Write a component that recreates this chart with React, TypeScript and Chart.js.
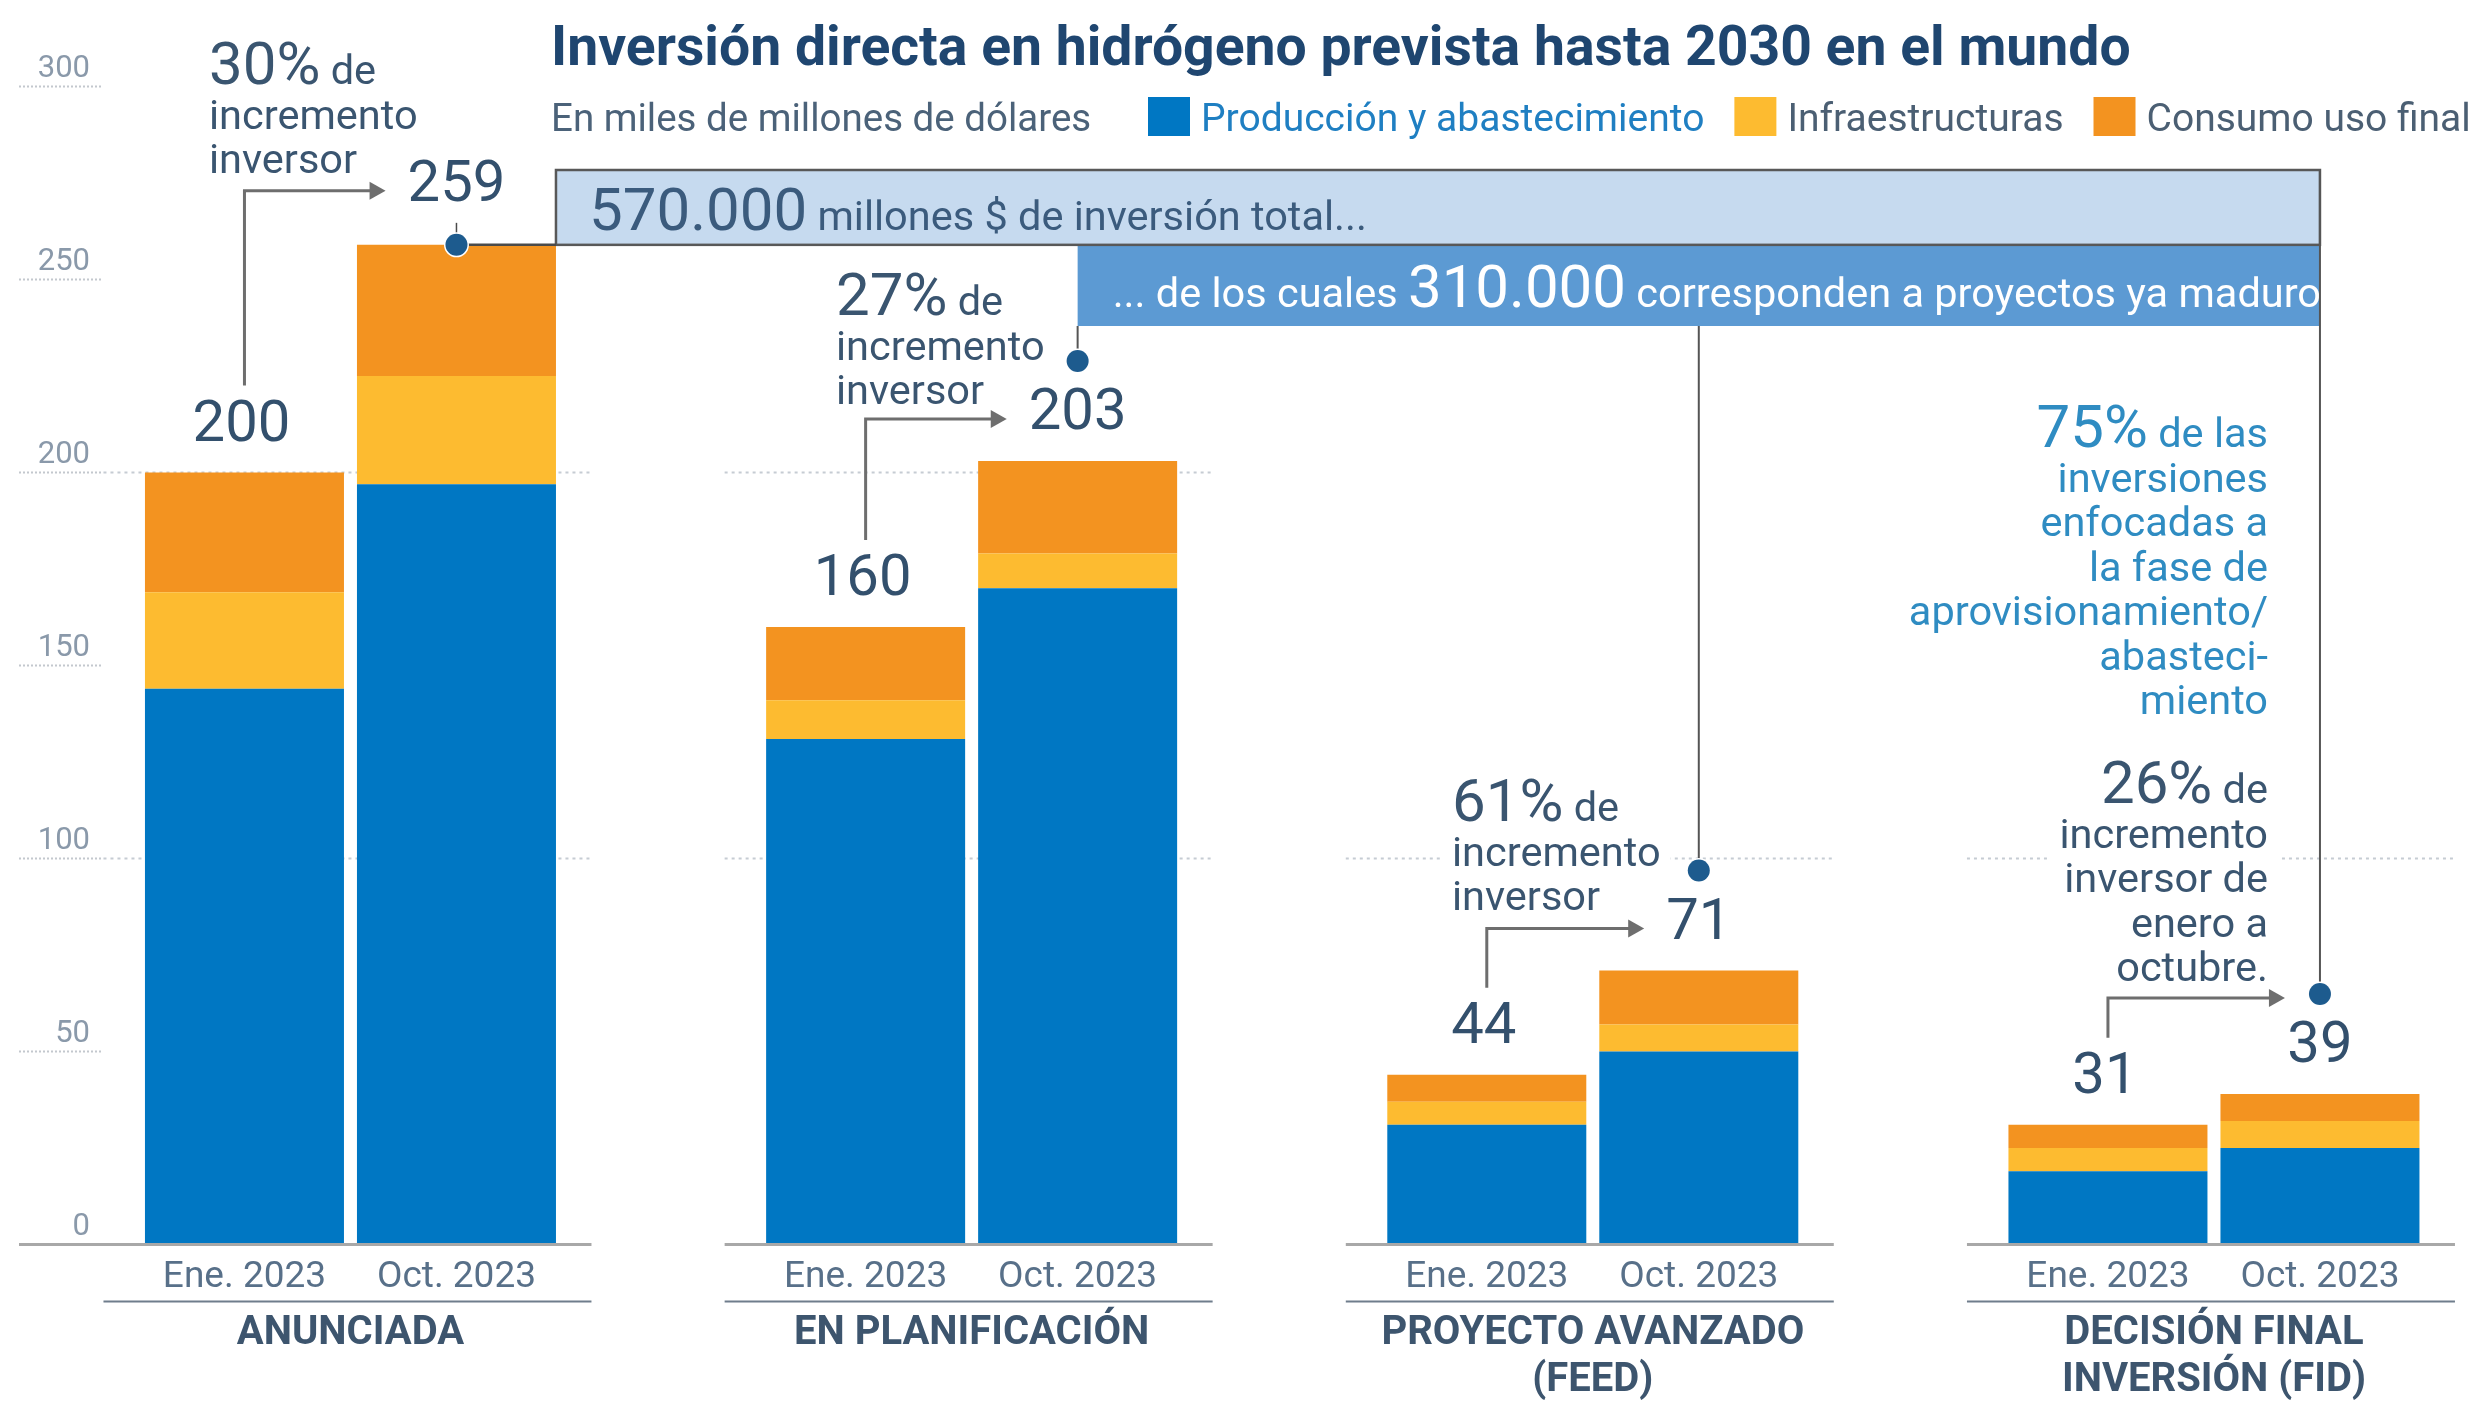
import React, { useEffect, useRef } from 'react';
import { Chart, registerables } from 'chart.js';

Chart.register(...registerables);

const W = 2470;
const H = 1404;

// ---------- data ----------
const categorias = [['ANUNCIADA'], ['EN PLANIFICACIÓN'], ['PROYECTO AVANZADO', '(FEED)'], ['DECISIÓN FINAL', 'INVERSIÓN (FID)']];
const periodos = ['Ene. 2023', 'Oct. 2023'];
const series = ['Producción y abastecimiento', 'Infraestructuras', 'Consumo uso final'];
const produccionEne = [144, 131, 31, 19];
const infraestructurasEne = [25, 10, 6, 6];
const consumoEne = [31, 19, 7, 6];
const produccionOct = [197, 170, 50, 25];
const infraestructurasOct = [28, 9, 7, 7];
const consumoOct = [34, 24, 14, 7];
const totalEne = [200, 160, 44, 31];
const totalOct = [259, 203, 71, 39];
const yTicksStep = 50;
const yMax = 300;
const gridValues = [100, 200];
const incrementos = ['30%', '27%', '61%', '26%'];

const titulo = 'Inversión directa en hidrógeno prevista hasta 2030 en el mundo';
const subtitulo = 'En miles de millones de dólares';
const cajaTotal = ['570.000', ' millones $ de inversión total...'];
const cajaMaduros = ['... de los cuales ', '310.000', ' corresponden a proyectos ya maduros'];

// ---------- styles ----------
const COLORS = ['#0077C3', '#FDBB30', '#F39320'];
const DARK = '#3a5570';
const TEAL = '#2f8cc2';
const FAM = 'Roboto, "Noto Sans", sans-serif';
const font = (size: number, weight = 400) => `${weight} ${size}px ${FAM}`;

const eneSeries = [produccionEne, infraestructurasEne, consumoEne];
const octSeries = [produccionOct, infraestructurasOct, consumoOct];

const barCommon = { categoryPercentage: 0.6826, barPercentage: 0.9387, borderWidth: 0 };

const datasets = [
  ...eneSeries.map((arr, k) => ({
    label: series[k],
    stack: 'ene',
    data: arr.map((v, i) => ({ x: i, y: v })),
    backgroundColor: COLORS[k],
    ...barCommon,
  })),
  ...octSeries.map((arr, k) => ({
    label: series[k],
    stack: 'oct',
    data: arr.map((v, i) => ({ x: i, y: v })),
    backgroundColor: COLORS[k],
    ...barCommon,
  })),
];

// annotation blocks (layout)
const notas = [
  { big: incrementos[0], small: ' de', lines: ['incremento', 'inversor'], x: 209, y: 84, align: 'left', color: DARK },
  { big: incrementos[1], small: ' de', lines: ['incremento', 'inversor'], x: 836, y: 315, align: 'left', color: DARK },
  { big: incrementos[2], small: ' de', lines: ['incremento', 'inversor'], x: 1452, y: 821, align: 'left', color: DARK },
  { big: '75%', small: ' de las', lines: ['inversiones', 'enfocadas a', 'la fase de', 'aprovisionamiento/', 'abasteci-', 'miento'], x: 2268, y: 447, align: 'right', color: TEAL },
  { big: incrementos[3], small: ' de', lines: ['incremento', 'inversor de', 'enero a', 'octubre.'], x: 2268, y: 803, align: 'right', color: DARK },
];
const arrowAtDot = [false, false, false, true];

const AXIS_LEFT = 19;
const SPAN_L = 247;
const SPAN_R = 241;
const LINE_H = 44.5;
const BIG = 60;
const SMALL = 41.5;
const BOX_TOP = 170;
const BOX2_BOTTOM = 326;
const DOT_LIFT = 100;
const DOT_R = 11;

function line(ctx: CanvasRenderingContext2D, x1: number, y1: number, x2: number, y2: number, color: string, w: number) {
  ctx.save();
  ctx.strokeStyle = color;
  ctx.lineWidth = w;
  ctx.beginPath();
  ctx.moveTo(x1, y1);
  ctx.lineTo(x2, y2);
  ctx.stroke();
  ctx.restore();
}

function rich(ctx: CanvasRenderingContext2D, parts: { t: string; s: number; w?: number }[], x: number, y: number, align: string) {
  let total = 0;
  const widths = parts.map((p) => {
    ctx.font = font(p.s, p.w || 400);
    const w = ctx.measureText(p.t).width;
    total += w;
    return w;
  });
  let cx = align === 'left' ? x : align === 'right' ? x - total : x - total / 2;
  ctx.textAlign = 'left';
  ctx.textBaseline = 'alphabetic';
  parts.forEach((p, i) => {
    ctx.font = font(p.s, p.w || 400);
    ctx.fillText(p.t, cx, y);
    cx += widths[i];
  });
  return total;
}

function arrow(ctx: CanvasRenderingContext2D, x0: number, yb: number, yt: number, xTip: number) {
  ctx.save();
  ctx.strokeStyle = '#6e6e6e';
  ctx.fillStyle = '#6e6e6e';
  ctx.lineWidth = 3;
  ctx.beginPath();
  ctx.moveTo(x0, yb);
  ctx.lineTo(x0, yt);
  ctx.lineTo(xTip - 10, yt);
  ctx.stroke();
  ctx.beginPath();
  ctx.moveTo(xTip, yt);
  ctx.lineTo(xTip - 16, yt - 9);
  ctx.lineTo(xTip - 16, yt + 9);
  ctx.closePath();
  ctx.fill();
  ctx.restore();
}

function dot(ctx: CanvasRenderingContext2D, x: number, y: number) {
  ctx.save();
  ctx.beginPath();
  ctx.arc(x, y, DOT_R, 0, Math.PI * 2);
  ctx.fillStyle = '#1d5b8e';
  ctx.strokeStyle = '#ffffff';
  ctx.lineWidth = 3;
  ctx.stroke();
  ctx.fill();
  ctx.restore();
}

const decor = {
  id: 'decor',
  beforeDatasetsDraw(chart: any) {
    const ctx = chart.ctx as CanvasRenderingContext2D;
    const xs = chart.scales.x;
    const ys = chart.scales.y;
    ctx.save();
    ctx.strokeStyle = '#c6ccd3';
    ctx.lineWidth = 2;
    ctx.setLineDash([3, 4]);
    categorias.forEach((_, i) => {
      const c = xs.getPixelForValue(i);
      const top = Math.max(totalEne[i], totalOct[i]);
      gridValues
        .filter((v) => v < top + 100)
        .forEach((v) => {
          const py = ys.getPixelForValue(v);
          ctx.beginPath();
          ctx.moveTo(c - SPAN_L, py);
          ctx.lineTo(c + SPAN_R, py);
          ctx.stroke();
        });
    });
    ctx.restore();
  },
  afterDatasetsDraw(chart: any) {
    const ctx = chart.ctx as CanvasRenderingContext2D;
    const xs = chart.scales.x;
    const ys = chart.scales.y;
    const y0 = ys.getPixelForValue(0);
    const eneTop = chart.getDatasetMeta(2).data;
    const octTop = chart.getDatasetMeta(5).data;
    ctx.save();

    // axes baselines, period labels, category names
    categorias.forEach((cat, i) => {
      const c = xs.getPixelForValue(i);
      const left = i === 0 ? AXIS_LEFT : c - SPAN_L;
      line(ctx, left, y0, c + SPAN_R, y0, '#a8a8a8', 3);
      ctx.font = font(37);
      ctx.fillStyle = '#587089';
      ctx.textAlign = 'center';
      ctx.textBaseline = 'middle';
      [eneTop[i], octTop[i]].forEach((el: any, s: number) => ctx.fillText(periodos[s], el.x, y0 + 33));
      line(ctx, c - SPAN_L, y0 + 57, c + SPAN_R, y0 + 57, '#6f7d8c', 2);
      ctx.font = font(40, 700);
      ctx.fillStyle = '#3d556e';
      cat.forEach((t, k) => ctx.fillText(t, c, y0 + 89 + k * 47));
    });

    // annotation blocks with white backing
    notas.forEach((n) => {
      ctx.font = font(SMALL);
      let maxW = n.lines.reduce((m, t) => Math.max(m, ctx.measureText(t).width), 0);
      ctx.font = font(BIG);
      let firstW = ctx.measureText(n.big).width;
      ctx.font = font(SMALL);
      firstW += ctx.measureText(n.small).width;
      maxW = Math.max(maxW, firstW);
      const left = n.align === 'left' ? n.x : n.x - maxW;
      ctx.fillStyle = '#ffffff';
      ctx.fillRect(left - 10, n.y - 50, maxW + 20, n.lines.length * LINE_H + 64);
      ctx.fillStyle = n.color;
      rich(ctx, [{ t: n.big, s: BIG }, { t: n.small, s: SMALL }], n.x, n.y, n.align);
      ctx.font = font(SMALL);
      ctx.textAlign = n.align as CanvasTextAlign;
      ctx.textBaseline = 'alphabetic';
      n.lines.forEach((t, k) => ctx.fillText(t, n.x, n.y + (k + 1) * LINE_H));
    });

    // boxes
    const o0: any = octTop[0];
    const o1: any = octTop[1];
    const o2: any = octTop[2];
    const o3: any = octTop[3];
    const b1Left = o0.x + o0.width / 2;
    const b1Right = o3.x;
    const b1Bottom = o0.y;
    ctx.fillStyle = '#C6DAEF';
    ctx.fillRect(b1Left, BOX_TOP, b1Right - b1Left, b1Bottom - BOX_TOP);
    ctx.fillStyle = '#5C9AD3';
    ctx.fillRect(o1.x, b1Bottom, b1Right - o1.x, BOX2_BOTTOM - b1Bottom);
    ctx.strokeStyle = '#585858';
    ctx.lineWidth = 2.5;
    ctx.strokeRect(b1Left, BOX_TOP, b1Right - b1Left, b1Bottom - BOX_TOP);

    ctx.fillStyle = '#3b5b7d';
    rich(ctx, [{ t: cajaTotal[0], s: BIG }, { t: cajaTotal[1], s: SMALL }], b1Left + 33, b1Bottom - 15, 'left');
    ctx.save();
    ctx.beginPath();
    ctx.rect(o1.x, b1Bottom, b1Right - o1.x, BOX2_BOTTOM - b1Bottom);
    ctx.clip();
    ctx.fillStyle = '#ffffff';
    rich(ctx, [{ t: cajaMaduros[0], s: SMALL }, { t: cajaMaduros[1], s: BIG }, { t: cajaMaduros[2], s: SMALL }], o1.x + 35, BOX2_BOTTOM - 19, 'left');
    ctx.restore();

    // connectors and dots
    line(ctx, o0.x, b1Bottom, b1Left, b1Bottom, '#4a4a4a', 2.5);
    line(ctx, o0.x, b1Bottom - 22, o0.x, b1Bottom, '#4a4a4a', 1.5);
    line(ctx, o1.x, BOX2_BOTTOM, o1.x, o1.y - DOT_LIFT, '#555555', 2);
    line(ctx, o2.x, BOX2_BOTTOM, o2.x, o2.y - DOT_LIFT, '#555555', 2);
    line(ctx, o3.x, BOX_TOP, o3.x, o3.y - DOT_LIFT, '#555555', 2);
    dot(ctx, o0.x, o0.y);
    dot(ctx, o1.x, o1.y - DOT_LIFT);
    dot(ctx, o2.x, o2.y - DOT_LIFT);
    dot(ctx, o3.x, o3.y - DOT_LIFT);

    // value labels + arrows
    ctx.textAlign = 'center';
    ctx.textBaseline = 'middle';
    categorias.forEach((_, i) => {
      const e: any = eneTop[i];
      const o: any = octTop[i];
      const eLabelY = e.y - 46;
      const oLabelY = o.y - 46 - (i === 0 ? 12 : 0);
      ctx.fillStyle = '#33506d';
      ctx.font = font(58);
      ctx.fillText(String(totalEne[i]), e.x - 3, eLabelY);
      ctx.fillText(String(totalOct[i]), o.x, oLabelY);
      const halfW = ctx.measureText(String(totalOct[i])).width / 2;
      const yTop = arrowAtDot[i] ? o.y - DOT_LIFT + 4 : oLabelY + 4;
      const xTip = arrowAtDot[i] ? o.x - DOT_R - 24 : o.x - halfW - 22;
      arrow(ctx, e.x, e.y - 87, yTop, xTip);
    });

    ctx.restore();
  },
  afterDraw(chart: any) {
    const ctx = chart.ctx as CanvasRenderingContext2D;
    ctx.save();
    ctx.textAlign = 'left';
    ctx.textBaseline = 'alphabetic';
    ctx.fillStyle = '#1f4670';
    ctx.font = font(55.3, 700);
    ctx.fillText(titulo, 551, 65);
    ctx.fillStyle = '#4b6279';
    ctx.font = font(38.5);
    ctx.fillText(subtitulo, 551, 131);
    let x = 1148;
    series.forEach((s, k) => {
      ctx.fillStyle = COLORS[k];
      ctx.fillRect(x, 97, 42, 39);
      x += 53;
      ctx.fillStyle = k === 0 ? '#1f7fc2' : '#4b5f73';
      ctx.font = font(39);
      ctx.fillText(s, x, 131);
      x += ctx.measureText(s).width + 30;
    });
    ctx.restore();
  },
};

export default function App() {
  const ref = useRef<HTMLCanvasElement>(null);
  useEffect(() => {
    const canvas = ref.current as HTMLCanvasElement;
    const chart = new Chart(canvas, {
      type: 'bar',
      data: { datasets: datasets as any },
      options: {
        responsive: false,
        animation: false,
        devicePixelRatio: 1,
        layout: { padding: { top: 86.6, bottom: 159.5, left: 0, right: 20 } },
        plugins: { legend: { display: false }, tooltip: { enabled: false } },
        scales: {
          x: {
            type: 'linear',
            min: -0.4,
            max: 3.38,
            offset: false,
            display: false,
            grid: { display: false },
            ticks: { stepSize: 1, includeBounds: false },
          },
          y: {
            type: 'linear',
            position: 'left',
            stacked: true,
            min: 0,
            max: yMax,
            border: { display: false },
            grid: {
              drawOnChartArea: false,
              drawTicks: true,
              tickLength: 83,
              tickColor: '#c3c8ce',
              tickWidth: 2,
              tickBorderDash: [2, 2],
            },
            ticks: {
              stepSize: yTicksStep,
              padding: -71,
              labelOffset: -17,
              color: '#8a99aa',
              font: { family: 'Roboto', size: 31 },
            },
            afterFit: (s: any) => {
              s.width = 102;
            },
          },
        },
      } as any,
      plugins: [decor],
    });
    return () => chart.destroy();
  }, []);
  return (
    <div style={{ position: 'absolute', left: 0, top: 0, width: W, height: H, background: '#ffffff' }}>
      <canvas ref={ref} width={W} height={H} style={{ width: W, height: H, display: 'block' }} />
    </div>
  );
}
